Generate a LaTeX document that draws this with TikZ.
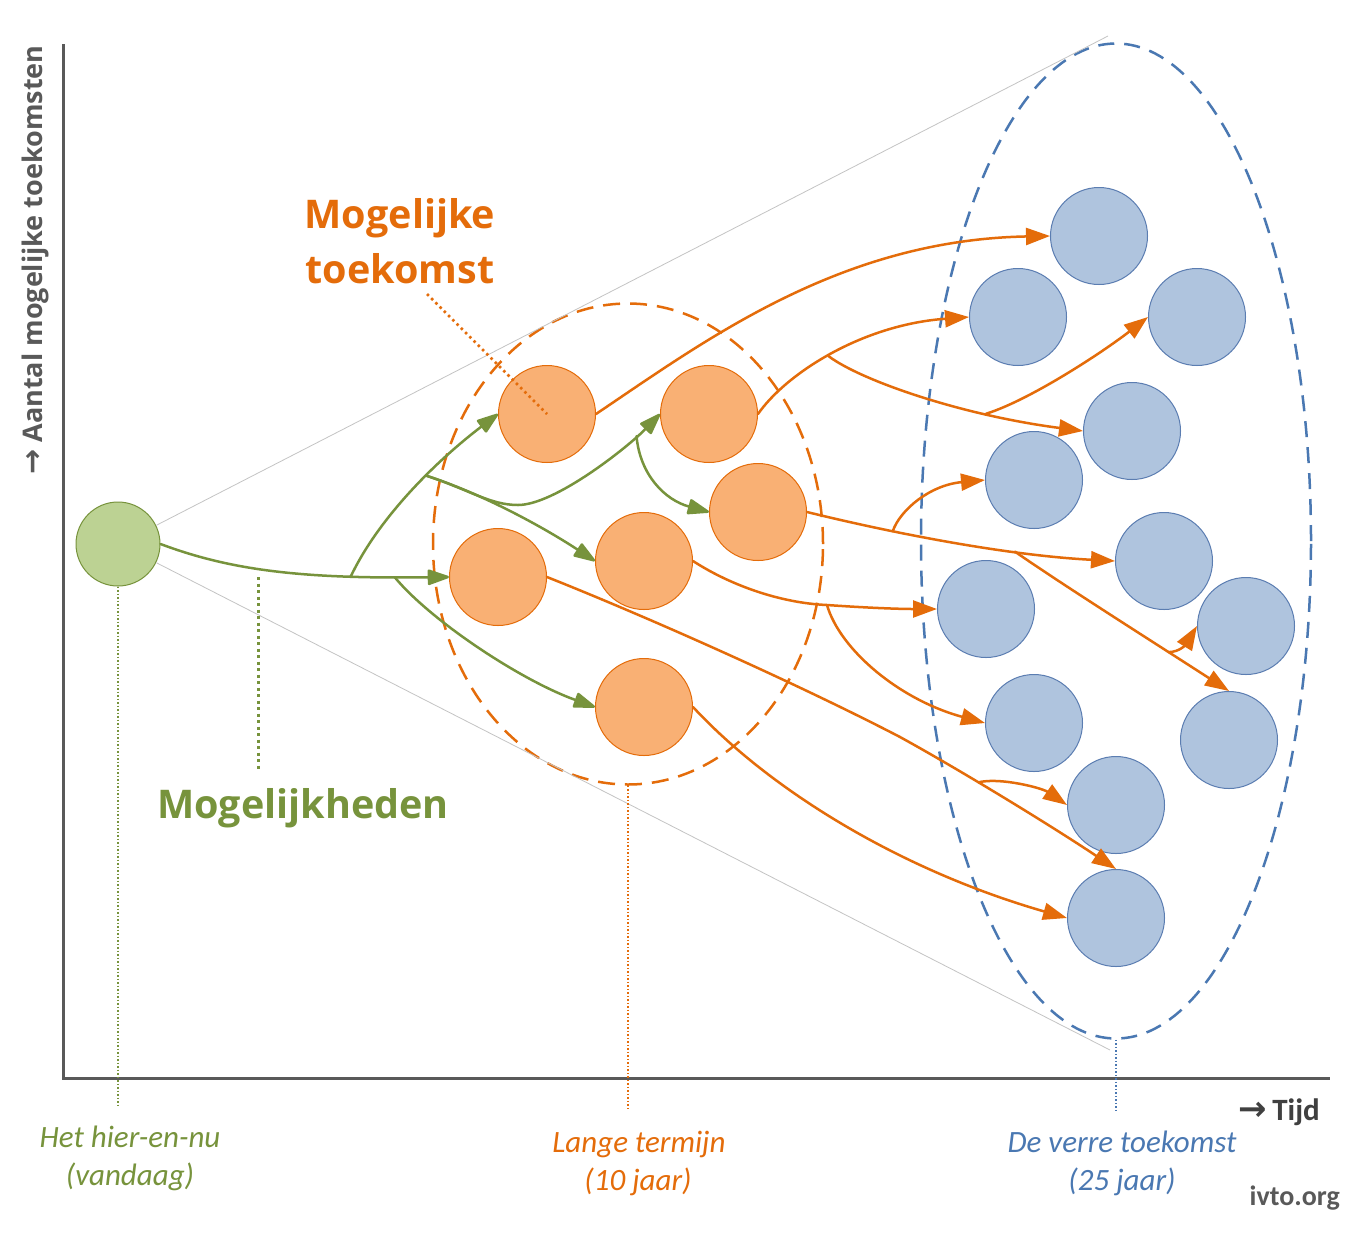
\documentclass[tikz,border=0pt]{standalone}
\usepackage{fontspec}
\setmainfont{Carlito}
\newfontfamily\osans{Open Sans}
\newfontfamily\djv{DejaVu Sans}
\usetikzlibrary{arrows.meta,shapes.geometric}
\definecolor{orangeL}{HTML}{E46C0A}
\definecolor{orangeF}{HTML}{F9B074}
\definecolor{blueF}{HTML}{AFC4DE}
\definecolor{blueB}{HTML}{5B7DB1}
\definecolor{blueD}{HTML}{4A78B2}
\definecolor{greenL}{HTML}{77933C}
\definecolor{greenF}{HTML}{BCD293}
\definecolor{axisG}{HTML}{595959}
\definecolor{thinG}{HTML}{C4C4C4}
\definecolor{textG}{HTML}{404040}
\tikzset{
  ocirc/.style={circle, draw=orangeL, line width=1pt, fill=orangeF, minimum size=97pt, inner sep=0pt},
  bcirc/.style={circle, draw=blueB, line width=1pt, fill=blueF, minimum size=97pt, inner sep=0pt},
  gcirc/.style={circle, draw=greenL, line width=1pt, fill=greenF, minimum size=84pt, inner sep=0pt},
  garr/.style={draw=greenL, line width=2.5pt, line cap=round, -{Triangle[length=24pt,width=16pt,round=false]}},
  oarr/.style={draw=orangeL, line width=2.5pt, line cap=round, -{Triangle[length=24pt,width=17pt]}},
  axisline/.style={draw=axisG, line width=3pt},
  thinline/.style={draw=thinG, line width=0.8pt},
  odash/.style={draw=orangeL, line width=2.5pt, dash pattern=on 17pt off 10pt},
  bdash/.style={draw=blueD, line width=2.5pt, dash pattern=on 16pt off 10pt},
  bigtxt/.style={font=\osans\bfseries\fontsize{39.5}{46}\selectfont, inner sep=0pt},
  itxt/.style={font=\itshape\fontsize{31}{36}\selectfont, inner sep=0pt},
}
\begin{document}
\begin{tikzpicture}[x=1pt,y=-1pt]
\fill[white] (0,0) rectangle (1354,1235);
\useasboundingbox (0,0) rectangle (1354,1235);

% axes
\coordinate (ax0) at (63,1078);
\coordinate (axtop) at (63,44);
\coordinate (axright) at (1330,1078);
\draw[axisline] (axtop) -- (ax0) -- (axright);

% dashed horizons
\node[ellipse, bdash, minimum width=390pt, minimum height=995pt, inner sep=0pt] (BE) at (1116,541) {};
\node[ellipse, odash, minimum width=390pt, minimum height=481pt, inner sep=0pt] (OE) at (628,544) {};

% present
\node[gcirc] (G) at (118,544) {};
\coordinate (tl) at (1108,36);
\coordinate (bl) at (1110,1050);
\draw[thinline] (G.26) -- (tl);
\draw[thinline] (G.-26) -- (bl);

% long-term circles
\node[ocirc] (O1) at (547,414) {};
\node[ocirc] (O2) at (709,414) {};
\node[ocirc] (O3) at (758,512) {};
\node[ocirc] (O4) at (644,561) {};
\node[ocirc] (O5) at (498,577) {};
\node[ocirc] (O6) at (644,707) {};

% far future circles
\node[bcirc] (B1) at (1099,236) {};
\node[bcirc] (B2) at (1018,317) {};
\node[bcirc] (B3) at (1197,317) {};
\node[bcirc] (B4) at (1132,431) {};
\node[bcirc] (B5) at (1034,480) {};
\node[bcirc] (B6) at (1164,561) {};
\node[bcirc] (B7) at (986,609) {};
\node[bcirc] (B8) at (1246,626) {};
\node[bcirc] (B9) at (1034,723) {};
\node[bcirc] (B10) at (1229,740) {};
\node[bcirc] (B11) at (1116,805) {};
\node[bcirc] (B12) at (1116,918) {};

% green paths
\draw[garr] (G.east) .. controls (230,570) and (300,579) .. (O5.west)
  coordinate[pos=0.75] (gb1) coordinate[pos=0.87] (gb3);
\draw[garr] (gb1) .. controls (380,515) and (440,458) .. (O1.west)
  coordinate[pos=0.58] (gb2);
\draw[garr] (gb2) .. controls (470,490) and (490,505) .. (518,505)
  .. controls (555,505) and (628,447) .. (O2.west) coordinate[pos=0.8] (gb4);
\draw[garr] (gb2) .. controls (480,493) and (540,525) .. (O4.west);
\draw[garr] (gb3) .. controls (430,620) and (520,680) .. (O6.west);
\draw[garr] (gb4) .. controls (640,475) and (665,500) .. (O3.west);

% orange paths
\draw[oarr] (O1.east) .. controls (706,340) and (840,240) .. (B1.west);
\draw[oarr] (O2.east) .. controls (785,375) and (860,325) .. (B2.west)
  coordinate[pos=0.48] (rb1);
\draw[oarr] (rb1) .. controls (860,380) and (960,415) .. (B4.west)
  coordinate[pos=0.72] (rb2);
\draw[oarr] (rb2) .. controls (1030,400) and (1103,352) .. (B3.west);
\draw[oarr] (O3.east) .. controls (880,530) and (1000,555) .. (B6.west)
  coordinate[pos=0.33] (rb3) coordinate[pos=0.71] (rb4);
\draw[oarr] (rb3) .. controls (900,510) and (930,485) .. (B5.west);
\draw[oarr] (rb4) .. controls (1060,583) and (1150,640) .. (B10.north)
  coordinate[pos=0.75] (rb5);
\draw[oarr] (rb5) .. controls (1180,652) and (1186,644) .. (B8.west);
\draw[oarr] (O4.east) .. controls (730,585) and (780,603) .. (827,605) coordinate (rb6)
  .. controls (870,608) and (900,609) .. (B7.west);
\draw[oarr] (rb6) .. controls (840,650) and (900,700) .. (B9.west);
\draw[oarr] (O5.east) .. controls (650,618) and (800,685) .. (900,737)
  .. controls (960,770) and (1050,825) .. (B12.north) coordinate[pos=0.38] (rb7);
\draw[oarr] (rb7) .. controls (1000,777) and (1042,788) .. (B11.west);
\draw[oarr] (O6.east) .. controls (770,790) and (900,870) .. (B12.west);

% pointer lines
\coordinate (gp1) at (258,577);
\coordinate (gp2) at (258,770);
\draw[greenL, line width=3pt, dash pattern=on 3pt off 3.5pt] (gp1) -- (gp2);
\coordinate (op1) at (427,294);
\draw[orangeL, line width=2.5pt, dash pattern=on 2.5pt off 3.5pt] (op1) -- (O1.center);
\coordinate (gv) at (118,1105);
\draw[greenL, line width=1.5pt, dash pattern=on 1.5pt off 2pt] (G.south) -- (gv);
\coordinate (ov) at (628,1110);
\draw[orangeL, line width=1.2pt, dash pattern=on 1.5pt off 2pt] (OE.south) -- (ov);
\coordinate (bv) at (1116,1110);
\draw[blueD, line width=1.2pt, dash pattern=on 1.5pt off 2pt] (BE.south) -- (bv);

% texts
\node[bigtxt, text=orangeL, anchor=base] (mt1) at (400,228) {Mogelijke};
\node[bigtxt, text=orangeL, anchor=base] (mt2) at (400,283) {toekomst};
\node[bigtxt, text=greenL, anchor=base] (mh) at (303,818) {Mogelijkheden};
\node[font=\osans\bfseries\fontsize{27}{32}\selectfont, text=axisG, rotate=90, anchor=base, inner sep=0pt] (ylab) at (42,260) {{\djv\bfseries\fontsize{30}{32}\selectfont →} Aantal mogelijke toekomsten};
\node[font=\bfseries\fontsize{31}{36}\selectfont, text=textG, anchor=base east, inner sep=0pt] (tijd) at (1320,1120) {{\djv\bfseries\fontsize{34}{36}\selectfont →}\,Tijd};
\node[font=\bfseries\fontsize{28}{32}\selectfont, text=axisG, anchor=base east, inner sep=0pt] (ivto) at (1340,1205) {ivto.org};
\node[itxt, text=greenL, anchor=base] (l1a) at (130,1147) {Het hier-en-nu};
\node[itxt, text=greenL, anchor=base] (l1b) at (130,1185) {(vandaag)};
\node[itxt, text=orangeL, anchor=base] (l2a) at (639,1152) {Lange termijn};
\node[itxt, text=orangeL, anchor=base] (l2b) at (638,1190) {(10 jaar)};
\node[itxt, text=blueD, anchor=base] (l3a) at (1122,1152) {De verre toekomst};
\node[itxt, text=blueD, anchor=base] (l3b) at (1122,1190) {(25 jaar)};
\end{tikzpicture}
\end{document}
